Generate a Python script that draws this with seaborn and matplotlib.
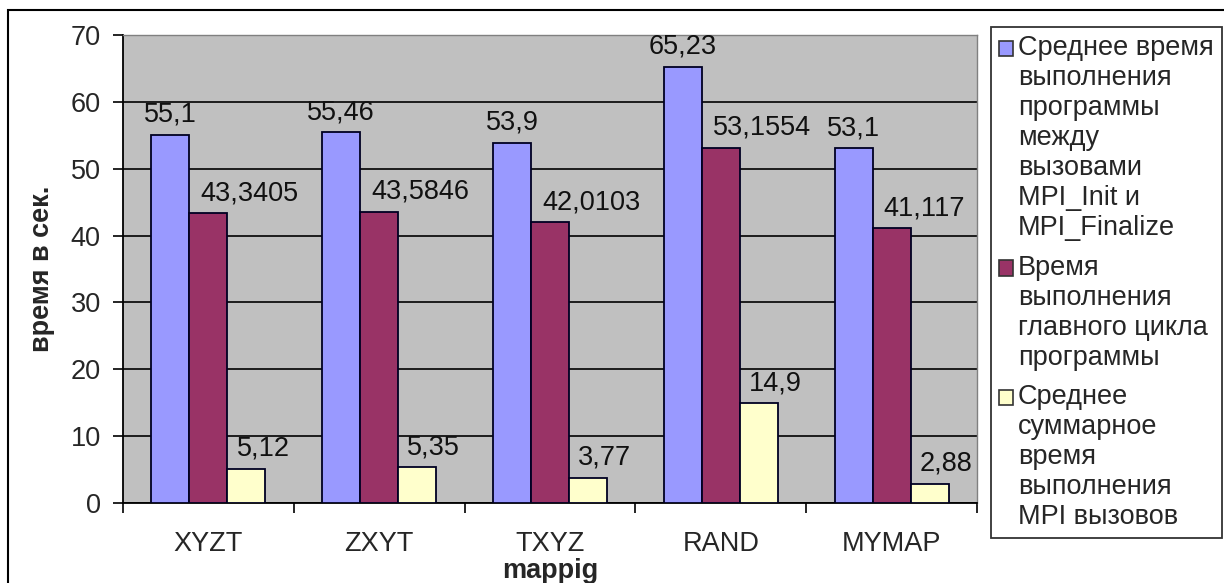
import matplotlib
matplotlib.use("Agg")
import matplotlib.pyplot as plt
import seaborn as sns
import pandas as pd
from matplotlib.patches import Rectangle, Patch
from matplotlib.legend_handler import HandlerPatch
from matplotlib.ticker import FixedLocator

categories = ["XYZT", "ZXYT", "TXYZ", "RAND", "MYMAP"]
total_time = [55.1, 55.46, 53.9, 65.23, 53.1]
loop_time = [43.3405, 43.5846, 42.0103, 53.1554, 41.117]
mpi_time = [5.12, 5.35, 3.77, 14.9, 2.88]
series_names = [
    "Среднее время\nвыполнения\nпрограммы\nмежду\nвызовами\nMPI_Init и\nMPI_Finalize",
    "Время\nвыполнения\nглавного цикла\nпрограммы",
    "Среднее\nсуммарное\nвремя\nвыполнения\nMPI вызовов",
]
y_ticks = [0, 10, 20, 30, 40, 50, 60, 70]
x_label = "mappig"
y_label = "время в сек."

colors = ["#9999FF", "#993366", "#FFFFCC"]

rows = []
for name, vals in zip(series_names, [total_time, loop_time, mpi_time]):
    for c, v in zip(categories, vals):
        rows.append({"mapping": c, "series": name, "value": v})
df = pd.DataFrame(rows)

sns.set_style("white")
plt.rcParams["font.family"] = ["Liberation Sans", "DejaVu Sans"]
FS = 19.5
LFS = 19.5

fig = plt.figure(figsize=(12.24, 5.83), dpi=100)
ax = fig.add_axes([123 / 1224, 1 - 503 / 583, (977 - 123) / 1224, (503 - 35) / 583])

sns.barplot(data=df, x="mapping", y="value", hue="series", order=categories,
            hue_order=series_names, palette=colors, width=0.667, gap=0,
            edgecolor="#000022", linewidth=1.3, saturation=1, legend=False,
            ax=ax, zorder=3)

ax.set_facecolor("#C0C0C0")
ax.set_ylim(0, 70)
ax.set_xlim(-0.5, len(categories) - 0.5)
ax.set_yticks(y_ticks)
ax.yaxis.grid(True, color="black", linewidth=1.2, zorder=0)
ax.set_axisbelow(True)

# category separators as minor ticks
ax.xaxis.set_minor_locator(FixedLocator([i - 0.5 for i in range(len(categories) + 1)]))
ax.tick_params(axis="x", which="major", length=0, pad=20, labelsize=FS)
ax.tick_params(axis="x", which="minor", length=7, width=1.2, direction="out", color="black", bottom=True)
ax.tick_params(axis="y", length=7, width=1.2, direction="out", color="black", left=True, pad=9, labelsize=FS)

for s in ["left", "bottom"]:
    ax.spines[s].set_color("black")
    ax.spines[s].set_linewidth(1.3)
for s in ["top", "right"]:
    ax.spines[s].set_color("#808080")
    ax.spines[s].set_linewidth(1.0)

ax.set_xlabel(x_label, fontsize=FS, fontweight="bold")
ax.set_ylabel(y_label, fontsize=FS, fontweight="bold")
ax.xaxis.set_label_coords(0.5, -0.117)
ax.yaxis.set_label_coords(-0.08, 0.5)

# value labels
offsets = [0, 0, 12]
for k, (cont, vals) in enumerate(zip(ax.containers, [total_time, loop_time, mpi_time])):
    for bar, v in zip(cont, vals):
        txt = str(v).replace(".", ",")
        if k == 1:
            x = bar.get_x()
            ha = "left"
            dx = 8
        else:
            x = bar.get_x() + bar.get_width() / 2
            ha = "center"
            dx = offsets[k]
        ax.annotate(txt, xy=(x, bar.get_height()), xytext=(dx, 5),
                    textcoords="offset points", ha=ha, va="bottom",
                    fontsize=FS, color="#111111", zorder=5)


class TopHandler(HandlerPatch):
    def __init__(self, shift, **kw):
        super().__init__(**kw)
        self.shift = shift

    def create_artists(self, legend, orig_handle, xdescent, ydescent,
                       width, height, fontsize, trans):
        p = Rectangle((-xdescent, -ydescent + self.shift), width, height,
                      facecolor=orig_handle.get_facecolor(),
                      edgecolor="#333333", linewidth=1.2, transform=trans)
        return [p]


handles = [Patch(facecolor=c, edgecolor="#333333") for c in colors]
hmap = {}
for h, name in zip(handles, series_names):
    n = name.count("\n") + 1
    hmap[h] = TopHandler((n - 1) / 2 * 1.11 * LFS)

leg = fig.legend(handles, series_names, loc="upper left",
                 bbox_to_anchor=(991 / 1224, 1 - 27 / 583),
                 bbox_transform=fig.transFigure, fontsize=LFS,
                 frameon=True, fancybox=False, shadow=False,
                 handlelength=0.5, handleheight=0.5, handletextpad=0.2,
                 labelspacing=0.5, borderpad=0.3, borderaxespad=0,
                 handler_map=hmap)
leg.get_frame().set_edgecolor("black")
leg.get_frame().set_linewidth(1.3)

# outer chart border
fig.patches.append(Rectangle((8 / 1224, -0.1), 2, 1 - 10 / 583 + 0.1, fill=False,
                             edgecolor="black", linewidth=1.5,
                             transform=fig.transFigure, figure=fig))

fig.savefig("out.png", dpi=100)
